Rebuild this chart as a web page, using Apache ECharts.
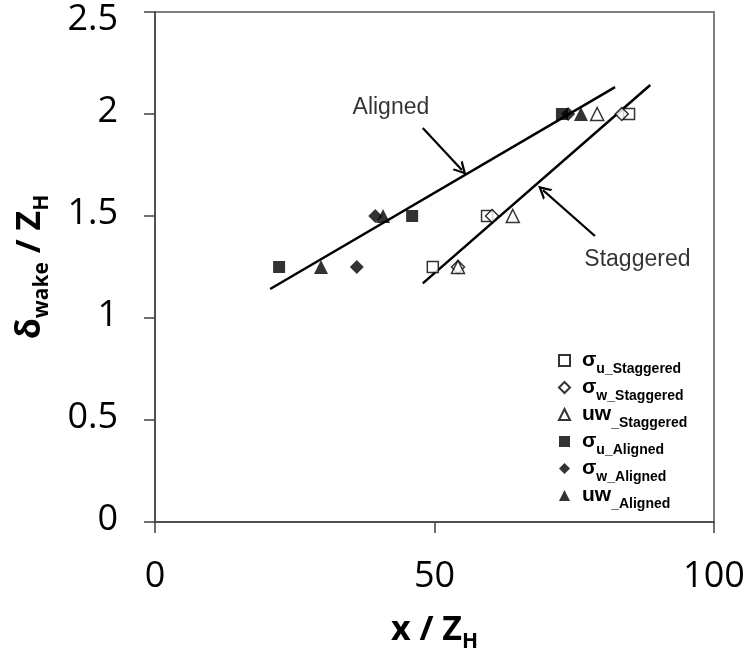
<!DOCTYPE html>
<html>
<head>
<meta charset="utf-8">
<script src="https://cdn.jsdelivr.net/npm/echarts@6/dist/echarts.min.js"></script>
<style>
  html, body { margin: 0; padding: 0; background: #fff; }
  #chart { width: 745px; height: 663px; }
</style>
</head>
<body>
<div id="chart"></div>
<script>
// Wake height vs. downstream distance, staggered and aligned arrays
const xTicks = [0, 50, 100];
const yTicks = [0, 0.5, 1, 1.5, 2, 2.5];

const seriesNames = ['σu_Staggered', 'σw_Staggered', 'uw_Staggered', 'σu_Aligned', 'σw_Aligned', 'uw_Aligned'];

const sigmaUStaggered = [[49.7, 1.25], [59.4, 1.5], [84.8, 2.0]];
const sigmaWStaggered = [[54.2, 1.25], [60.3, 1.5], [83.5, 2.0]];
const uwStaggered     = [[54.2, 1.25], [64.0, 1.5], [79.1, 2.0]];
const sigmaUAligned   = [[22.2, 1.25], [46.0, 1.5], [72.8, 2.0]];
const sigmaWAligned   = [[36.1, 1.25], [39.4, 1.5], [73.9, 2.0]];
const uwAligned       = [[29.7, 1.25], [40.8, 1.5], [76.2, 2.0]];

// Linear trend lines (end points)
const alignedFit   = [[20.6, 1.142], [82.3, 2.132]];
const staggeredFit = [[47.9, 1.17], [88.6, 2.142]];

// Annotation labels and arrows
const noteLabels = [
  { name: 'Aligned', value: [42.2, 2.03] },
  { name: 'Staggered', value: [86.3, 1.284] }
];
const noteArrows = [
  [[47.9, 1.931], [54.9, 1.725]],
  [[78.7, 1.402], [69.4, 1.627]]
];

const openStyle = { color: '#fff', borderColor: '#000', borderWidth: 1.5 };
const solidStyle = { color: '#000', borderColor: '#000', borderWidth: 0 };

function pointSeries(name, data, symbol, size, style) {
  return {
    name, type: 'scatter', data, symbol, symbolSize: size,
    itemStyle: style, z: 3,
    emphasis: { disabled: true }
  };
}

const legendRich = {
  big: { fontSize: 21, fontWeight: 'bold', fontFamily: 'Liberation Sans', color: '#000', lineHeight: 21, verticalAlign: 'bottom', padding: [0, 0, 0, 7] },
  sub: { fontSize: 14, fontWeight: 'bold', fontFamily: 'Liberation Sans', color: '#000', lineHeight: 14, verticalAlign: 'bottom', padding: [0, 0, -5, 0] }
};

function legendText(name) {
  const i = name.indexOf('_');
  if (name.startsWith('σ')) {
    return '{big|σ}{sub|' + name.slice(1) + '}';
  }
  return '{big|' + name.slice(0, i) + '}{sub|' + name.slice(i) + '}';
}

const titleRich = {
  t: { fontFamily: 'Open Sans', fontWeight: 'bold', fontSize: 34, color: '#000', verticalAlign: 'bottom' },
  s: { fontFamily: 'Open Sans', fontWeight: 'bold', fontSize: 21, color: '#000', verticalAlign: 'bottom', padding: [0, 0, -6, 0] }
};

const tickFont = { fontFamily: 'Open Sans', fontSize: 36, color: '#000' };

const chart = echarts.init(document.getElementById('chart'));
chart.setOption({
  animation: false,
  backgroundColor: '#fff',
  grid: {
    left: 155, right: 31, top: 12, bottom: 141,
    outerBoundsMode: 'none', containLabel: false,
    show: true, borderColor: '#808080', borderWidth: 2, backgroundColor: 'transparent'
  },
  xAxis: {
    type: 'value', min: xTicks[0], max: xTicks[xTicks.length - 1], interval: 50,
    axisLine: { show: true, onZero: false, lineStyle: { color: '#404040', width: 1.5 } },
    axisTick: { show: true, length: 11, lineStyle: { color: '#404040', width: 1.5 } },
    splitLine: { show: false },
    axisLabel: Object.assign({ margin: 37, hideOverlap: false }, tickFont),
    name: '{t|x / Z}{s|H}',
    nameLocation: 'middle', nameGap: 91,
    nameTextStyle: { rich: titleRich }
  },
  yAxis: {
    type: 'value', min: yTicks[0], max: yTicks[yTicks.length - 1], interval: 0.5,
    axisLine: { show: true, onZero: false, lineStyle: { color: '#404040', width: 1.5 } },
    axisTick: { show: true, length: 11, lineStyle: { color: '#404040', width: 1.5 } },
    splitLine: { show: false },
    axisLabel: {
      margin: 37,
      formatter: v => (v === yTicks[yTicks.length - 1] ? '{top|' + v + '}' : '{n|' + v + '}'),
      rich: {
        n: Object.assign({ padding: [0, 0, 4, 0] }, tickFont),
        top: Object.assign({ padding: [16, 0, 0, 0] }, tickFont)
      }
    },
    name: '{t|δ}{s|wake}{t| / Z}{s|H}',
    nameLocation: 'middle', nameRotate: 90, nameGap: 108,
    nameTextStyle: { rich: titleRich }
  },
  legend: {
    data: seriesNames,
    orient: 'vertical', left: 553, top: 345,
    itemWidth: 11, itemHeight: 11, itemGap: 1,
    formatter: legendText,
    textStyle: { rich: legendRich },
    selectedMode: false
  },
  series: [
    pointSeries(seriesNames[0], sigmaUStaggered, 'rect', 11, openStyle),
    pointSeries(seriesNames[1], sigmaWStaggered, 'diamond', 13, openStyle),
    pointSeries(seriesNames[2], uwStaggered, 'triangle', 13, openStyle),
    pointSeries(seriesNames[3], sigmaUAligned, 'rect', 12, solidStyle),
    pointSeries(seriesNames[4], sigmaWAligned, 'diamond', 14, solidStyle),
    pointSeries(seriesNames[5], uwAligned, 'triangle', 14, solidStyle),
    {
      name: 'Aligned fit', type: 'line', data: alignedFit, symbol: 'none',
      lineStyle: { color: '#000', width: 2.5 }, z: 2
    },
    {
      name: 'Staggered fit', type: 'line', data: staggeredFit, symbol: 'none',
      lineStyle: { color: '#000', width: 2.5 }, z: 2
    },
    {
      name: 'notes', type: 'scatter', data: noteLabels, symbolSize: 0,
      label: {
        show: true, position: 'inside', formatter: '{b}',
        fontFamily: 'Liberation Sans', fontSize: 23, color: '#000'
      },
      markLine: {
        silent: true,
        symbol: ['none', 'path://M0,10 L5,0 L10,10 L8.2,10 L5,3.6 L1.8,10 Z'],
        symbolSize: [14, 13],
        label: { show: false },
        lineStyle: { color: '#000', width: 2.2, type: 'solid' },
        data: noteArrows.map(a => [{ coord: a[0] }, { coord: a[1] }])
      }
    }
  ]
});
</script>
</body>
</html>
